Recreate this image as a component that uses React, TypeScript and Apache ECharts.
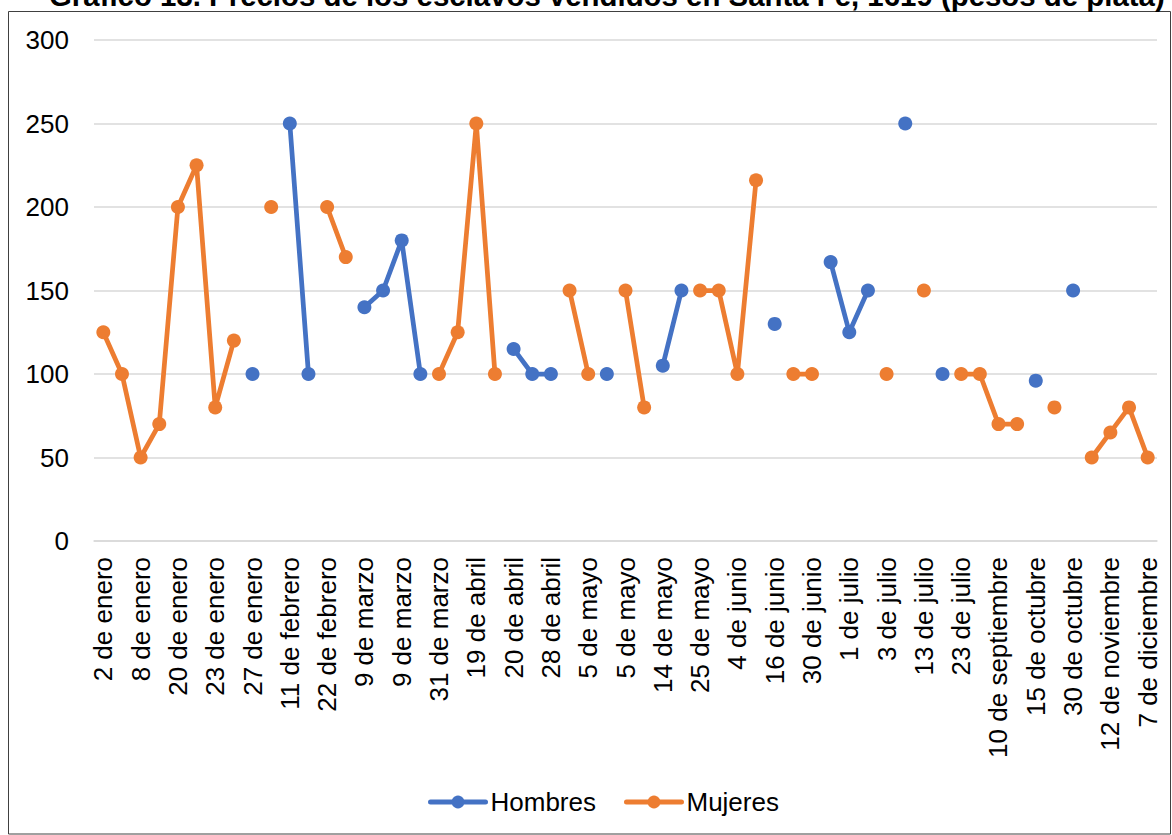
import React, { useEffect, useRef } from "react";
import * as echarts from "echarts";

const TITLE = "Gráfico 13. Precios de los esclavos vendidos en Santa Fe, 1619 (pesos de plata)";

const categories: string[] = [
  "2 de enero", "5 de enero", "8 de enero", "12 de enero", "20 de enero", "21 de enero",
  "23 de enero", "25 de enero", "27 de enero", "4 de febrero", "11 de febrero", "18 de febrero",
  "22 de febrero", "3 de marzo", "9 de marzo", "9 de marzo", "9 de marzo", "20 de marzo",
  "31 de marzo", "10 de abril", "19 de abril", "20 de abril", "20 de abril", "24 de abril",
  "28 de abril", "2 de mayo", "5 de mayo", "5 de mayo", "5 de mayo", "10 de mayo",
  "14 de mayo", "20 de mayo", "25 de mayo", "30 de mayo", "4 de junio", "10 de junio",
  "16 de junio", "23 de junio", "30 de junio", "30 de junio", "1 de julio", "2 de julio",
  "3 de julio", "8 de julio", "13 de julio", "18 de julio", "23 de julio", "15 de agosto",
  "10 de septiembre", "28 de septiembre", "15 de octubre", "20 de octubre", "30 de octubre", "5 de noviembre",
  "12 de noviembre", "25 de noviembre", "7 de diciembre",
];

const hombres: (number | null)[] = [
  null, null, null, null, null, null, null, null, 100, null,
  250, 100, null, null, 140, 150, 180, 100, null, null,
  null, null, 115, 100, 100, null, null, 100, null, null,
  105, 150, null, null, null, null, 130, null, null, 167,
  125, 150, null, 250, null, 100, null, null, null, null,
  96, null, 150, null, null, null, null,
];

const mujeres: (number | null)[] = [
  125, 100, 50, 70, 200, 225, 80, 120, null, 200,
  null, null, 200, 170, null, null, null, null, 100, 125,
  250, 100, null, null, null, 150, 100, null, 150, 80,
  null, null, 150, 150, 100, 216, null, 100, 100, null,
  null, null, 100, null, 150, null, 100, 100, 70, 70,
  null, 80, null, 50, 65, 80, 50,
];

const yTicks = { min: 0, max: 300, interval: 50 };

const FONT = "'Liberation Sans', Arial, sans-serif";
const BLUE = "#4472C4";
const ORANGE = "#ED7D31";

export default function App() {
  const ref = useRef<HTMLDivElement>(null);
  useEffect(() => {
    if (!ref.current) return;
    const chart = echarts.init(ref.current, null, { renderer: "svg" });
    const mkSeries = (name: string, data: (number | null)[], color: string) => ({
      name,
      type: "line",
      data,
      connectNulls: false,
      showSymbol: true,
      showAllSymbol: true,
      symbol: "circle",
      symbolSize: 14,
      itemStyle: { color },
      lineStyle: { color, width: 4.75, cap: "round", join: "round" },
    });
    chart.setOption({
      animation: false,
      backgroundColor: "#ffffff",
      title: {
        text: TITLE,
        left: 44,
        top: -24,
        textStyle: { fontFamily: FONT, fontSize: 29.4, fontWeight: "bold", color: "#000" },
      },
      graphic: [
        {
          type: "rect",
          shape: { x: 8.5, y: 11.5, width: 1162, height: 822.5 },
          style: { fill: "none", stroke: "#404040", lineWidth: 1 },
          silent: true,
          z: -1,
        },
      ],
      grid: { left: 94, right: 15, top: 40, bottom: 294, containLabel: false },
      legend: {
        top: 789,
        left: 428,
        padding: 0,
        itemWidth: 55,
        itemHeight: 16,
        itemGap: 28,
        lineStyle: { width: 5 },
        textStyle: { fontFamily: FONT, fontSize: 26, color: "#000", padding: [0, 0, 0, 0] },
        data: ["Hombres", "Mujeres"],
      },
      xAxis: {
        type: "category",
        data: categories,
        boundaryGap: true,
        axisLine: { show: true, lineStyle: { color: "#d9d9d9", width: 1.5 } },
        axisTick: { show: false },
        axisLabel: {
          interval: 1,
          rotate: 90,
          margin: 16,
          fontFamily: FONT,
          fontSize: 26,
          color: "#000",
        },
      },
      yAxis: {
        type: "value",
        min: yTicks.min,
        max: yTicks.max,
        interval: yTicks.interval,
        axisLine: { show: false },
        axisTick: { show: false },
        splitLine: { lineStyle: { color: "#d9d9d9", width: 1.5 } },
        axisLabel: { margin: 25, fontFamily: FONT, fontSize: 26, color: "#000" },
      },
      series: [mkSeries("Hombres", hombres, BLUE), mkSeries("Mujeres", mujeres, ORANGE)],
    });
    return () => chart.dispose();
  }, []);
  return (
    <div
      ref={ref}
      style={{ position: "absolute", left: 0, top: 0, width: 1172, height: 835 }}
    />
  );
}
